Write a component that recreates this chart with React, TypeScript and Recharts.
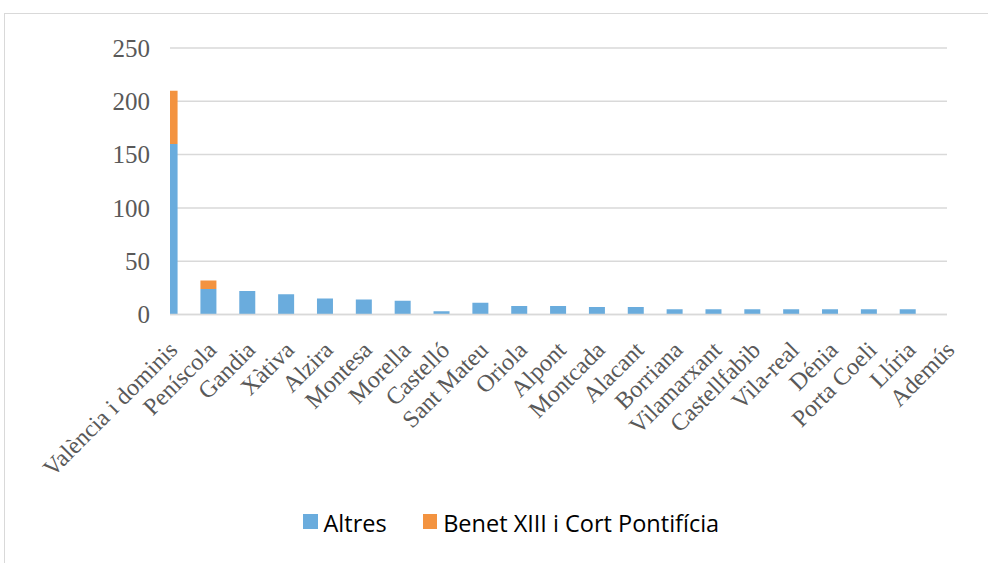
import { Bar, BarChart, CartesianGrid, XAxis, YAxis } from "recharts";

const categories = [
  "València i dominis",
  "Peníscola",
  "Gandia",
  "Xàtiva",
  "Alzira",
  "Montesa",
  "Morella",
  "Castelló",
  "Sant Mateu",
  "Oriola",
  "Alpont",
  "Montcada",
  "Alacant",
  "Borriana",
  "Vilamarxant",
  "Castellfabib",
  "Vila-real",
  "Dénia",
  "Porta Coeli",
  "Llíria",
  "Ademús",
];

const altres = [160, 24, 22, 19, 15, 14, 13, 3, 11, 8, 8, 7, 7, 5, 5, 5, 5, 5, 5, 5, 0];
const benet = [50, 8, 0, 0, 0, 0, 0, 0, 0, 0, 0, 0, 0, 0, 0, 0, 0, 0, 0, 0, 0];

const yTicks = [0, 50, 100, 150, 200, 250];

const BLUE = "#6aacdd";
const ORANGE = "#f39340";
const GRID = "#d9d9d9";
const LABEL = "#595959";

const data = categories.map((name, i) => ({
  idx: i,
  name,
  altres: altres[i],
  benet: benet[i],
}));

function CategoryTick({ x, y, payload }: any) {
  return (
    <g transform={`translate(${x + 3},${y + 23})`}>
      <text
        transform="rotate(-45)"
        textAnchor="end"
        dy="0.35em"
        fill={LABEL}
        fontFamily="'Liberation Serif', serif"
        fontSize={24}
      >
        {categories[payload.value]}
      </text>
    </g>
  );
}

function LegendItem({ color, label }: { color: string; label: string }) {
  return (
    <div style={{ display: "flex", alignItems: "flex-start", marginRight: 36 }}>
      <div style={{ width: 14.5, height: 14.5, background: color, marginRight: 6, marginTop: 7 }} />
      <span>{label}</span>
    </div>
  );
}

export default function App() {
  return (
    <div
      style={{
        position: "absolute",
        left: 0,
        top: 0,
        width: 988,
        height: 563,
        background: "#fff",
        overflow: "hidden",
      }}
    >
      <div
        style={{
          position: "absolute",
          left: 4,
          top: 13,
          width: 990,
          height: 560,
          borderTop: `1.5px solid ${GRID}`,
          borderLeft: `1.5px solid ${GRID}`,
        }}
      />
      <div style={{ position: "absolute", left: 0, top: 0 }}>
        <BarChart
          width={988}
          height={563}
          data={data}
          margin={{ top: 48, right: 41, left: 100, bottom: 0 }}
        >
          <CartesianGrid horizontal vertical={false} stroke={GRID} strokeWidth={1.5} />
          <XAxis
            type="number"
            dataKey="idx"
            domain={[0, categories.length - 1]}
            ticks={categories.map((_, i) => i)}
            interval={0}
            allowDataOverflow
            axisLine={{ stroke: GRID, strokeWidth: 1.5 }}
            tickLine={false}
            tick={<CategoryTick />}
            height={248.5}
          />
          <YAxis
            domain={[0, 250]}
            ticks={yTicks}
            axisLine={false}
            tickLine={false}
            tickSize={0}
            tickMargin={20}
            width={70}
            tick={{ fill: LABEL, fontSize: 25, fontFamily: "'Liberation Serif', serif" }}
          />
          <Bar dataKey="altres" stackId="a" fill={BLUE} barSize={16} isAnimationActive={false} />
          <Bar dataKey="benet" stackId="a" fill={ORANGE} barSize={16} isAnimationActive={false} />
        </BarChart>
      </div>
      <div
        style={{
          position: "absolute",
          top: 507,
          left: 303,
          display: "flex",
          fontFamily: "'Open Sans', sans-serif",
          fontSize: 23.5,
          color: "#000",
          whiteSpace: "nowrap",
        }}
      >
        <LegendItem color={BLUE} label="Altres" />
        <LegendItem color={ORANGE} label="Benet XIII i Cort Pontifícia" />
      </div>
    </div>
  );
}
